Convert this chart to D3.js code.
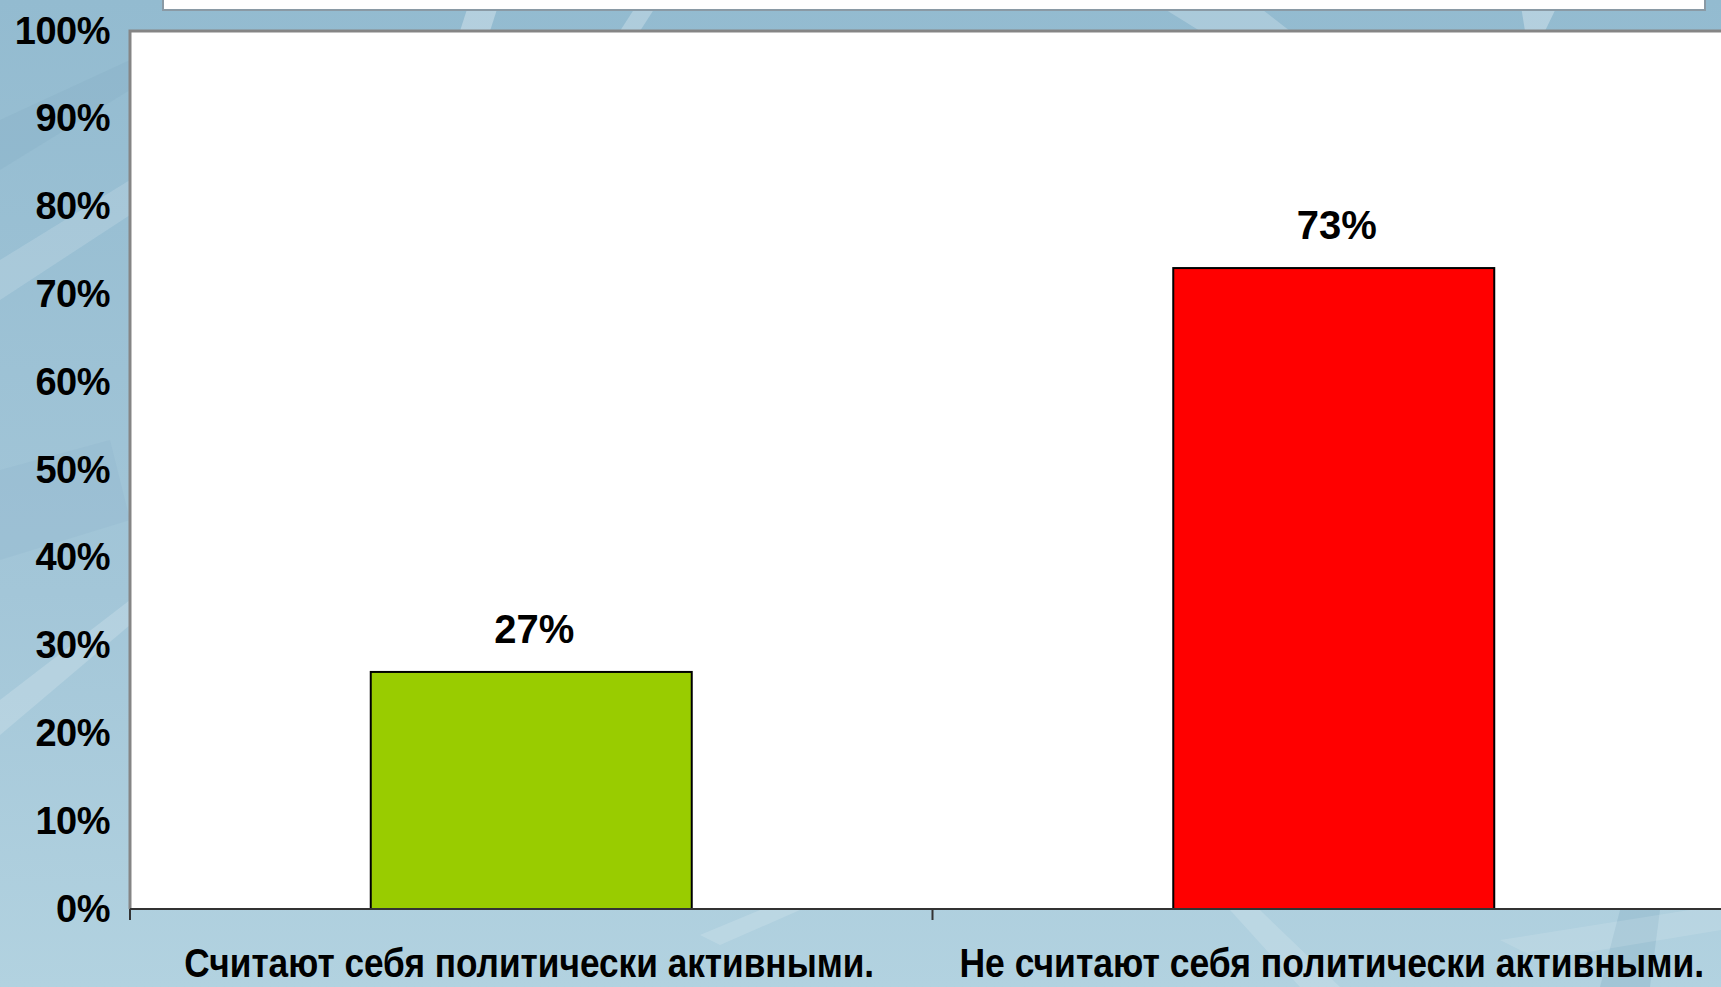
<!DOCTYPE html>
<html>
  <head>
    <meta charset="utf-8">
    <script src="https://d3js.org/d3.v7.min.js"></script>
    <style>
      body { margin: 0; overflow: hidden; }
      text { font-family: "Liberation Sans", Arial, sans-serif; font-weight: bold; fill: #000; }
    </style>
  </head>
  <body>
    <div id="chart"></div>
    <script>
      // data
      let categories = ['Считают себя политически активными.', 'Не считают себя политически активными.'];
      let values = [27, 73];
      let barColors = ['#99cc00', '#ff0000'];
      let yTicks = [0, 10, 20, 30, 40, 50, 60, 70, 80, 90, 100];

      let width = 1721;
      let height = 987;
      let margin = {top: 31, left: 130, bottom: 909, right: 1735};

      let svg = d3.select('#chart').append('svg')
        .attr('width', width)
        .attr('height', height);

      // slide background
      let defs = svg.append('defs');
      let grad = defs.append('linearGradient')
        .attr('id', 'bg').attr('x1', 0).attr('y1', 0).attr('x2', 0).attr('y2', 1);
      grad.append('stop').attr('offset', '0%').attr('stop-color', '#93bbd0');
      grad.append('stop').attr('offset', '60%').attr('stop-color', '#a3c6d8');
      grad.append('stop').attr('offset', '100%').attr('stop-color', '#b2d2e0');

      svg.append('rect')
        .attr('width', width).attr('height', height)
        .attr('fill', 'url(#bg)');

      // a few light/dark streaks like the slide template
      let streaks = [
        {p: '0,260 130,180 130,215 0,300', c: '#ffffff', o: 0.15},
        {p: '0,700 130,600 130,625 0,735', c: '#ffffff', o: 0.18},
        {p: '0,120 130,60 130,90 0,170', c: '#7fa9c0', o: 0.22},
        {p: '0,470 110,440 130,520 0,560', c: '#7fa9c0', o: 0.15},
        {p: '470,0 500,0 490,31 460,31', c: '#ffffff', o: 0.3},
        {p: '640,0 660,0 640,31 620,31', c: '#ffffff', o: 0.25},
        {p: '1150,0 1250,0 1290,31 1200,31', c: '#ffffff', o: 0.22},
        {p: '1520,0 1560,0 1545,31 1525,31', c: '#ffffff', o: 0.3},
        {p: '700,935 760,910 800,910 720,945', c: '#ffffff', o: 0.15},
        {p: '1230,910 1260,910 1340,987 1300,987', c: '#ffffff', o: 0.15},
        {p: '1620,910 1660,910 1650,987 1600,987', c: '#7fa9c0', o: 0.3},
        {p: '1500,940 1721,905 1721,930 1540,960', c: '#ffffff', o: 0.12}
      ];
      svg.append('g').selectAll('polygon')
        .data(streaks)
        .join('polygon')
        .attr('points', d => d.p)
        .attr('fill', d => d.c)
        .attr('opacity', d => d.o);

      // bottom of the title box above the chart
      svg.append('rect')
        .attr('x', 163).attr('y', -20)
        .attr('width', 1542).attr('height', 30)
        .attr('fill', '#fff')
        .attr('stroke', '#8a9aa5').attr('stroke-width', 2);

      let x = d3.scaleBand()
        .domain(categories)
        .range([margin.left, margin.right])
        .paddingInner(0.6)
        .paddingOuter(0.3);

      let y = d3.scaleLinear()
        .domain([0, 100])
        .range([margin.bottom, margin.top]);

      // plot area
      svg.append('rect')
        .attr('x', margin.left).attr('y', margin.top)
        .attr('width', margin.right - margin.left)
        .attr('height', margin.bottom - margin.top)
        .attr('fill', '#fff');
      svg.append('path')
        .attr('d', 'M' + margin.left + ',' + margin.bottom + 'V' + margin.top + 'H' + margin.right)
        .attr('fill', 'none')
        .attr('stroke', '#858585')
        .attr('stroke-width', 3);

      // bars
      svg.append('g').selectAll('rect')
        .data(values)
        .join('rect')
        .attr('x', (d, i) => x(categories[i]))
        .attr('y', d => y(d))
        .attr('width', x.bandwidth())
        .attr('height', d => y(0) - y(d))
        .attr('fill', (d, i) => barColors[i])
        .attr('stroke', '#000')
        .attr('stroke-width', 2);

      // value labels
      svg.append('g').selectAll('text')
        .data(values)
        .join('text')
        .attr('x', (d, i) => x(categories[i]) + x.bandwidth() / 2 + 3)
        .attr('y', d => y(d) - 29)
        .attr('text-anchor', 'middle')
        .attr('font-size', 40)
        .text(d => d + '%');

      // y axis
      let yAxis = svg.append('g')
        .attr('transform', 'translate(' + margin.left + ',0)')
        .call(d3.axisLeft(y).tickValues(yTicks).tickSize(0).tickPadding(20).tickFormat(d => d + '%'));
      yAxis.select('.domain').remove();
      yAxis.selectAll('text')
        .attr('font-size', 38)
        .attr('font-family', '"Liberation Sans", Arial, sans-serif')
        .attr('font-weight', 'bold')
        .attr('letter-spacing', -0.5)
        .attr('fill', '#000');

      // x axis line with ticks at category boundaries
      let bounds = [margin.left, (x(categories[0]) + x.bandwidth() + x(categories[1])) / 2];
      svg.append('line')
        .attr('x1', margin.left).attr('x2', margin.right)
        .attr('y1', y(0)).attr('y2', y(0))
        .attr('stroke', '#333').attr('stroke-width', 2);
      svg.append('g').selectAll('line')
        .data(bounds)
        .join('line')
        .attr('x1', d => d).attr('x2', d => d)
        .attr('y1', y(0)).attr('y2', y(0) + 11)
        .attr('stroke', '#333').attr('stroke-width', 2);

      // category labels, squeezed horizontally like the original
      let labelWidths = [690, 745];
      svg.append('g').selectAll('text')
        .data(categories)
        .join('text')
        .attr('text-anchor', 'middle')
        .attr('font-size', 40)
        .text(d => d)
        .attr('transform', function(d, i) {
          let sx = labelWidths[i] / this.getComputedTextLength();
          return 'translate(' + (x(d) + x.bandwidth() / 2 - 2) + ',977) scale(' + sx + ',1)';
        });
    </script>
  </body>
</html>
